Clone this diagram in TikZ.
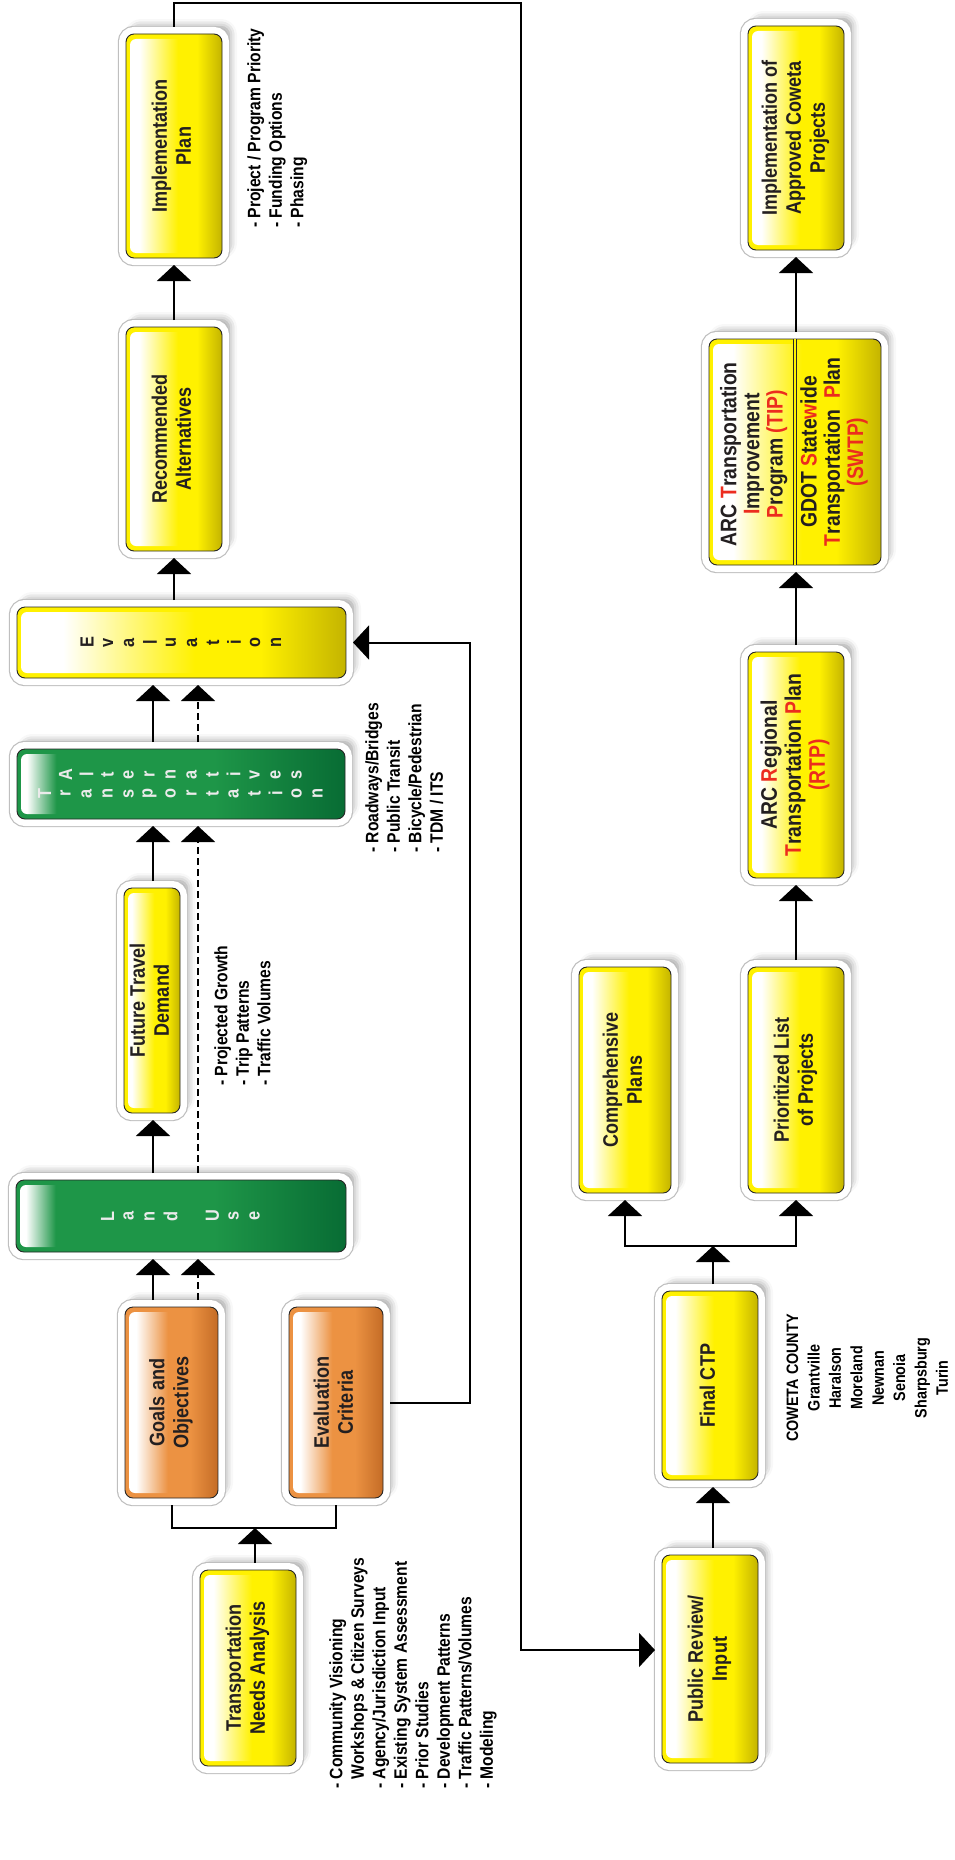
\documentclass[tikz,border=0pt]{standalone}
\usepackage{fontspec}
\setmainfont{Liberation Sans}
\newfontfamily\boxfont{Liberation Sans}[FakeStretch=0.86]
\newfontfamily\notefont{Liberation Sans}[FakeStretch=0.87]
\usepackage{xcolor}
\usepackage{graphicx}
\usepackage{tikz}
\usetikzlibrary{arrows.meta,calc,shadows.blur}

\definecolor{ylw}{RGB}{255,241,0}
\definecolor{ylwdark}{RGB}{196,180,0}
\definecolor{grn}{RGB}{30,150,72}
\definecolor{grndark}{RGB}{8,108,52}
\definecolor{org}{RGB}{236,146,66}
\definecolor{orgdark}{RGB}{196,108,38}
\definecolor{acr}{RGB}{236,44,30}
\definecolor{ink}{RGB}{35,31,32}

% box fills: base colour and the lighter inset
\pgfdeclarehorizontalshading{ylwbase}{100bp}{color(0bp)=(ylw); color(25bp)=(ylw); color(62bp)=(ylw); color(75bp)=(ylwdark); color(100bp)=(ylwdark)}
\pgfdeclarehorizontalshading{ylwlite}{100bp}{color(0bp)=(white); color(25bp)=(white); color(32bp)=(white); color(52bp)=(ylw); color(62bp)=(ylw); color(75bp)=(ylwdark); color(100bp)=(ylwdark)}
\pgfdeclarehorizontalshading{grnbase}{100bp}{color(0bp)=(grn); color(25bp)=(grn); color(55bp)=(grn); color(75bp)=(grndark); color(100bp)=(grndark)}
\pgfdeclarehorizontalshading{grnlite}{100bp}{color(0bp)=(white); color(25bp)=(white); color(26.5bp)=(white); color(31bp)=(grn); color(55bp)=(grn); color(75bp)=(grndark); color(100bp)=(grndark)}
\pgfdeclarehorizontalshading{orgbase}{100bp}{color(0bp)=(org); color(25bp)=(org); color(60bp)=(org); color(75bp)=(orgdark); color(100bp)=(orgdark)}
\pgfdeclarehorizontalshading{orglite}{100bp}{color(0bp)=(white); color(25bp)=(white); color(31bp)=(white); color(48bp)=(org); color(60bp)=(org); color(75bp)=(orgdark); color(100bp)=(orgdark)}

\newcommand\vtext[1]{\rotatebox{90}{\begin{tabular}{@{}c@{}}#1\end{tabular}}}
\newcommand\vnote[1]{\rotatebox{90}{\begin{tabular}{@{}l@{}}#1\end{tabular}}}
\newcommand\vl[1]{\makebox[21pt]{\rotatebox{90}{\makebox[0pt]{#1}}}}
\newcommand\rd[1]{\textcolor{acr}{#1}}

\begin{document}
\begin{tikzpicture}[x=1pt,y=1pt,yscale=-1,
  frame/.style={rounded corners=8pt, draw=black!85, line width=0.9pt,
    inner sep=0pt, outer sep=7pt, text=ink,
    font=\boxfont\bfseries\fontsize{21}{24}\selectfont,
    blur shadow={shadow xshift=7pt, shadow yshift=7pt, shadow blur radius=8pt, shadow opacity=45},
    preaction={draw=black!25, line width=16.4pt},
    preaction={draw=white, line width=14pt}},
  lite/.style={path picture={\shade[rounded corners=6pt, shading=#1]
      ([shift={(4pt,-5pt)}]path picture bounding box.north west) rectangle
      ([shift={(-9pt,5pt)}]path picture bounding box.south east);}},
  ylwbox/.style={frame, shade, shading=ylwbase, lite=ylwlite},
  grnbox/.style={frame, shade, shading=grnbase, lite=grnlite, align=center,
    text=white!92!black, font=\boxfont\bfseries\fontsize{19}{19}\selectfont},
  orgbox/.style={frame, shade, shading=orgbase, lite=orglite},
  dims/.style 2 args={minimum width=#1pt, minimum height=#2pt},
  arr/.style={line width=2pt, -{Triangle[length=16pt,width=34pt]}},
  dasharr/.style={arr, dash pattern=on 7pt off 4pt},
  note/.style={inner sep=0pt, text=black, font=\notefont\bfseries\fontsize{18}{21.5}\selectfont}]
\useasboundingbox (0,0) rectangle (955,1860);

% planning column
\node[ylwbox, dims={96}{224}] (impl) at (174,146) {\vtext{Implementation\\Plan}};
\node[ylwbox, dims={96}{224}] (rec) at (174,439) {\vtext{Recommended\\Alternatives}};
\node[ylwbox, dims={329}{71}, font=\boxfont\bfseries\fontsize{19}{19}\selectfont] (eval) at (181.5,642.5)
  {\vl{E}\vl{v}\vl{a}\vl{l}\vl{u}\vl{a}\vl{t}\vl{i}\vl{o}\vl{n}};
\node[grnbox, dims={328}{70}] (ta) at (181,784)
  {\vl{A}\vl{l}\vl{t}\vl{e}\vl{r}\vl{n}\vl{a}\vl{t}\vl{i}\vl{v}\vl{e}\vl{s}\\
   \vl{T}\vl{r}\vl{a}\vl{n}\vl{s}\vl{p}\vl{o}\vl{r}\vl{t}\vl{a}\vl{t}\vl{i}\vl{o}\vl{n}};
\node[ylwbox, dims={56}{225}] (ftd) at (152,1000.5) {\vtext{Future Travel\\Demand}};
\node[grnbox, dims={330}{72}] (lu) at (181,1216) {\vl{L}\vl{a}\vl{n}\vl{d}\vl{}\vl{U}\vl{s}\vl{e}};
\node[orgbox, dims={93}{191}] (goals) at (171.5,1402.5) {\vtext{Goals and\\Objectives}};
\node[orgbox, dims={94}{191}] (crit) at (336,1402.5) {\vtext{Evaluation\\Criteria}};
\node[ylwbox, dims={96}{196}] (needs) at (248,1668) {\vtext{Transportation\\Needs Analysis}};

% adoption column
\node[ylwbox, dims={96}{208}] (pub) at (710,1659) {\vtext{Public Review/\\Input}};
\node[ylwbox, dims={96}{189}] (fctp) at (710,1385.5) {\vtext{Final CTP}};
\node[ylwbox, dims={92}{226}] (comp) at (625,1080) {\vtext{Comprehensive\\Plans}};
\node[ylwbox, dims={96}{226}] (prio) at (796,1080) {\vtext{Prioritized List\\of Projects}};
\node[ylwbox, dims={96}{226}, font=\boxfont\bfseries\fontsize{22.5}{24}\selectfont] (rtp) at (796,765)
  {\vtext{ARC \rd{R}egional\\\rd{T}ransportation \rd{P}lan\\\rd{(RTP)}}};
\node[ylwbox, dims={172}{226}, font=\boxfont\bfseries\fontsize{22.5}{23}\selectfont] (tip) at (795,452)
  {\vtext{ARC \rd{T}ransportation\\\rd{I}mprovement\\\rd{P}rogram \rd{(TIP)}}\hspace{11pt}%
   \vtext{GDOT \rd{S}tate\rd{w}ide\\\rd{T}ransportation~~\rd{P}lan\\\rd{(SWTP)}}};
\draw[line width=0.8pt, draw=black!85, double=ylw, double distance=1.6pt]
  ($(tip.north)+(0,7)$) -- ($(tip.south)+(0,-7)$);
\node[ylwbox, dims={96}{224}] (impa) at (796,138)
  {\vtext{Implementation of\\Approved Coweta\\Projects}};

% side notes
\node[note, anchor=south west] (implnote) at (245,228)
  {\vnote{- Project / Program Priority\\- Funding Options\\- Phasing}};
\node[note, anchor=south west] (tanote) at (363,853)
  {\vnote{- Roadways/Bridges\\- Public Transit\\- Bicycle/Pedestrian\\- TDM / ITS}};
\node[note, anchor=south west] (ftdnote) at (212,1086)
  {\vnote{- Projected Growth\\- Trip Patterns\\- Traffic Volumes}};
\node[note, anchor=south west] (needsnote) at (327,1789)
  {\vnote{- Community Visioning\\\phantom{- }Workshops \& Citizen Surveys\\- Agency/Jurisdiction Input\\- Existing System Assessment\\- Prior Studies\\- Development Patterns\\- Traffic Patterns/Volumes\\- Modeling}};
\node[note, anchor=west, font=\notefont\bfseries\fontsize{16.5}{21.4}\selectfont] (county) at (783,1378)
  {\vtext{COWETA COUNTY\\Grantville\\Haralson\\Moreland\\Newnan\\Senoia\\Sharpsburg\\Turin}};

% connectors
\coordinate (sl) at (153,0);
\coordinate (ds) at (198,0);
\coordinate (jn) at (255,1528);
\coordinate (fb) at (470,0);
\coordinate (lp) at (521,3);
\coordinate (fk) at (713,1246);

\draw[line width=2pt] (goals.south) |- (jn) -| (crit.south);
\draw[arr] (needs.north -| jn) -- (jn);
\draw[arr] (goals.north -| sl) -- (lu.south -| sl);
\draw[dasharr] (goals.north -| ds) -- (lu.south -| ds);
\draw[arr] (lu.north -| sl) -- (ftd.south -| sl);
\draw[dasharr] (lu.north -| ds) -- (ta.south -| ds);
\draw[arr] (ftd.north -| sl) -- (ta.south -| sl);
\draw[arr] (ta.north -| sl) -- (eval.south -| sl);
\draw[dasharr] (ta.north -| ds) -- (eval.south -| ds);
\draw[arr] (eval.north -| rec.north) -- (rec.south);
\draw[arr] (rec.north) -- (impl.south);
\draw[arr] (crit.east) -| (fb |- eval.east) -- (eval.east);

\draw[arr] (impl.north) |- (lp) |- ($(pub.west)+(0,-9)$);
\draw[arr] (pub.north -| fk) -- (fctp.south -| fk);
\draw[arr] (fctp.north -| fk) -- (fk);
\draw[arr] (fk) -| (comp.south);
\draw[arr] (fk) -| (prio.south);
\draw[arr] (prio.north) -- (rtp.south);
\draw[arr] (rtp.north) -- (tip.south -| rtp.north);
\draw[arr] (tip.north -| impa.south) -- (impa.south);

\end{tikzpicture}
\end{document}
